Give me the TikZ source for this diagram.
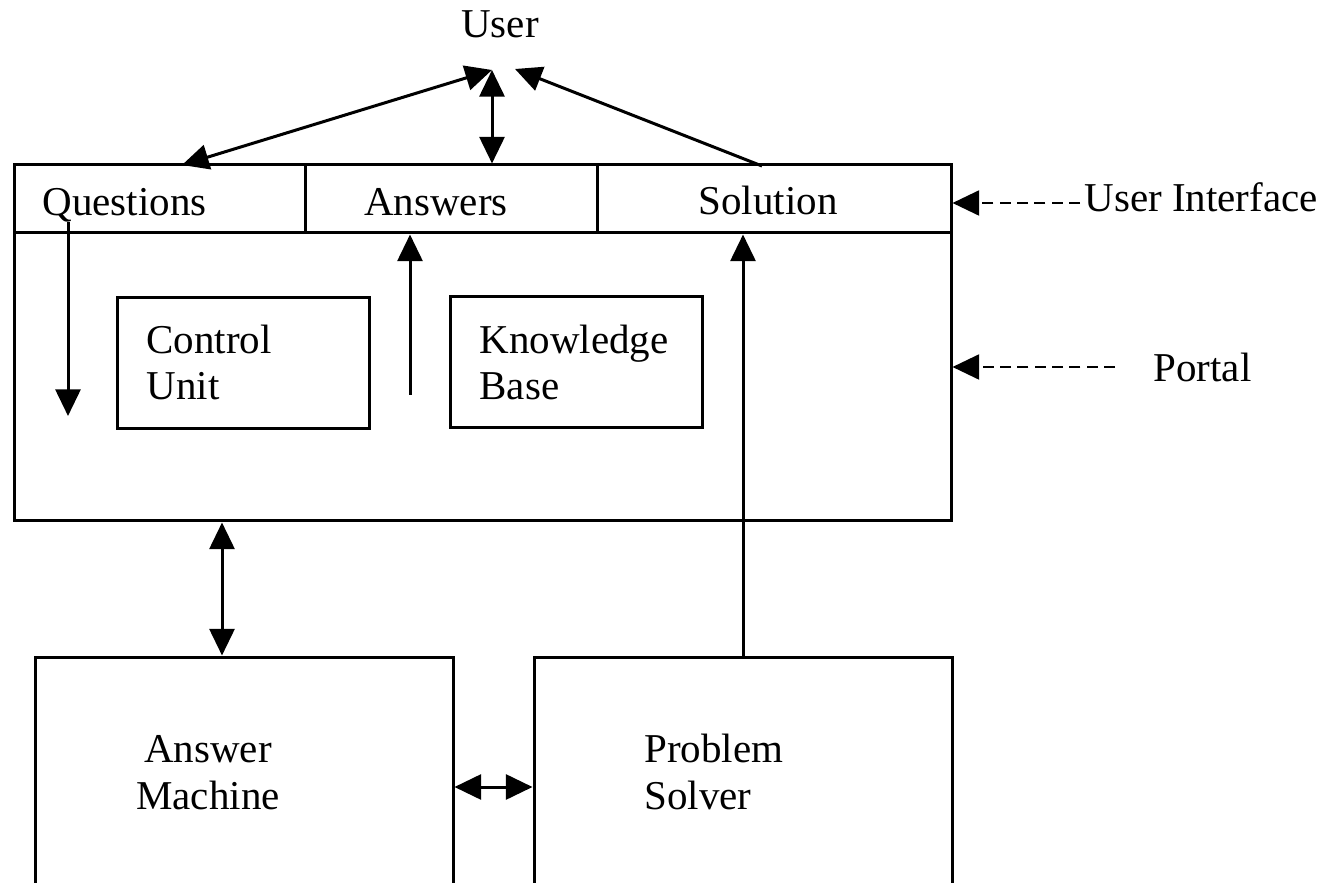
\documentclass[tikz,border=0pt]{standalone}
\usepackage{fontspec}
\setmainfont{Liberation Serif}
\usetikzlibrary{arrows.meta, fit}

\tikzset{
  box/.style={draw, inner sep=0pt},
  lbl/.style={inner sep=0pt, align=left},
}

\begin{document}
\begin{tikzpicture}[x=0.3pt, y=-0.3pt, line width=0.9pt,
    >={Triangle[length=8pt, width=7.5pt]},
    font=\fontsize{12.3}{14}\selectfont]
  \useasboundingbox (0,0) rectangle (1323,883);
  \clip (0,0) rectangle (1323,883);

  % ---- portal and its interface strip ----
  \node[box, fit={(14,165) (951,521)}] (portal) {};
  \foreach \nm/\xa/\xb in {qcell/14/305, acell/305/597, scell/597/951} {
    \node[box, fit={(\xa,165) (\xb,233)}] (\nm) {};
  }
  \node[lbl, anchor=base west] (qtxt) at (41,216) {Questions};
  \node[lbl, anchor=base] (atxt) at (436,216) {Answers};
  \node[lbl, anchor=base west] (stxt) at (697,215) {Solution};

  % ---- inner units (base = last line) ----
  \node[box, fit={(117,298) (369,429)}] (cu) {};
  \node[box, fit={(450,297) (702,428)}] (kb) {};
  \node[lbl, anchor=base west] (cutxt) at (145,400) {Control\\Unit};
  \node[lbl, anchor=base west] (kbtxt) at (478,400) {Knowledge\\Base};

  % ---- lower machines (cut at the page edge) ----
  \node[box, fit={(35,657) (453,900)}] (am) {};
  \node[box, fit={(534,657) (952,900)}] (ps) {};
  \node[lbl, anchor=base, align=center] (amtxt) at (208,809) {Answer\\Machine};
  \node[lbl, anchor=base west] (pstxt) at (643,809) {Problem\\Solver};

  % ---- user and side labels ----
  \node[lbl, anchor=base] (user) at (500,38) {User};
  \node[lbl, anchor=base west] (uilbl) at (1083,212) {User Interface};
  \node[lbl, anchor=base west] (plbl) at (1152,382) {Portal};

  \coordinate (uL) at (492,70);
  \coordinate (uR) at (515,69);
  \coordinate (qtop) at (182,165);
  \coordinate (sfrom) at (762,166);
  \coordinate (qdown) at (68,222);
  \coordinate (kbup) at (410,395);
  \coordinate (amup) at (222,0);

  % ---- connectors ----
  \draw[<->] (qtop) -- (uL);
  \draw[<->] (uL) -- (uL |- acell.north);
  \draw[->] (sfrom) -- (uR);
  \draw[->] (qdown) -- (68,416);
  \draw[->] (kbup) -- (kbup |- acell.south);
  \draw[->] (ps.north) -- (ps.north |- scell.south);
  \draw[<->] (portal.south -| amup) -- (am.north -| amup);
  \draw[<->] (am.east |- 0,787) -- (ps.west |- 0,787);

  % ---- dashed pointers ----
  \draw[->, line width=0.7pt, dash pattern=on 3.3pt off 1.9pt] (1080,203) -- (portal.east |- 0,203);
  \draw[->, line width=0.7pt, dash pattern=on 3.3pt off 1.9pt] (1115,367) -- (portal.east |- 0,367);
\end{tikzpicture}
\end{document}
